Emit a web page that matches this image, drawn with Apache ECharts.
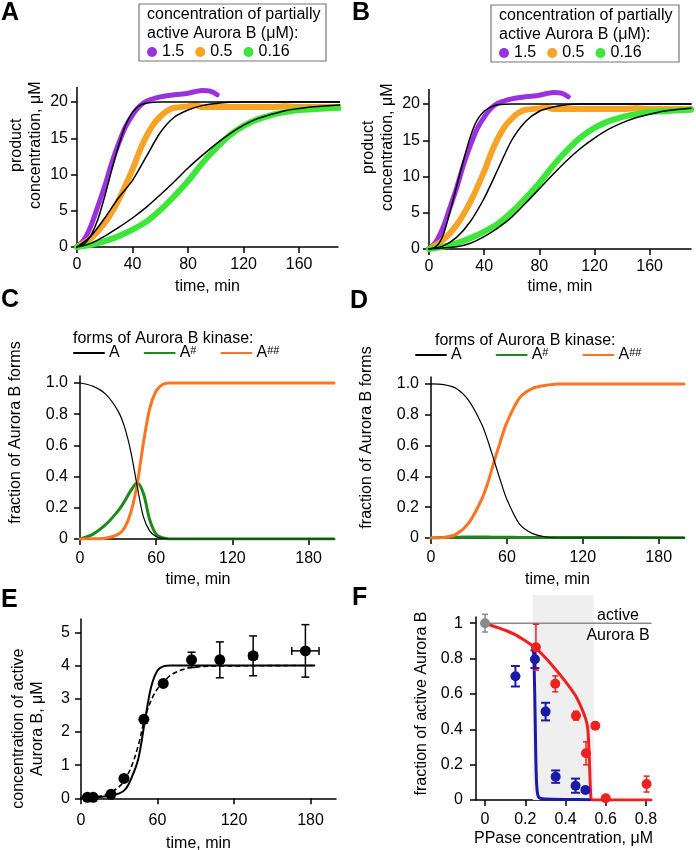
<!DOCTYPE html>
<html><head><meta charset="utf-8">
<script src="https://cdn.jsdelivr.net/npm/echarts@6/dist/echarts.min.js"></script>
<style>html,body{margin:0;padding:0;background:#fff}#c{width:696px;height:850px}</style>
</head><body><div id="c"></div>
<script>
// ---------- Panels A/B: experimental traces (shared) ----------
const tPurple = [0,5,10,15,20,25,30,35,40,45,50,60,70,80,90,96,101];
const vPurple = [0,1.0,2.9,5.6,8.4,11.6,14.3,16.6,18.2,19.4,20.1,20.7,21.0,21.2,21.6,21.5,21.0];
const tOrange = [0,10,20,30,40,45,50,55,60,65,70,80,85,90,100,120,140,150,160,190];
const vOrange = [0,1.2,3.3,6.5,10.7,13.2,15.3,16.9,18.0,18.8,19.2,19.4,19.6,19.3,19.3,19.3,19.3,19.4,19.3,19.3];
const tGreen = [0,10,20,30,40,50,60,70,80,90,100,110,120,130,140,150,160,170,190];
const vGreen = [0,0.3,0.8,1.5,2.4,3.5,5.1,7.0,9.1,11.5,13.6,15.4,16.7,17.6,18.2,18.6,18.9,19.0,19.2];
// Panel A model fits
const tFitAP = [0,5,10,15,20,25,30,35,40,45,50,55,60,190];
const vFitAP = [0,0.4,1.6,3.8,7.0,10.6,14.0,16.8,18.6,19.5,19.85,19.97,20,20];
const tFitAO = [0,10,20,30,40,50,60,70,80,90,100,110,120,190];
const vFitAO = [0,1.5,4.0,6.8,9.2,12.5,15.8,17.9,18.9,19.5,19.8,19.95,20,20];
const tFitAG = [0,10,20,30,40,50,60,70,80,90,100,110,120,130,140,150,160,170,190];
const vFitAG = [0,0.5,1.5,2.7,4.0,5.5,7.2,9.0,10.9,12.6,14.2,15.6,16.8,17.7,18.3,18.8,19.1,19.35,19.6];
// Panel B model fits
const tFitBP = [0,5,10,15,20,25,30,35,40,45,50,60,190];
const vFitBP = [0,0.3,1.8,5.0,8.6,12.2,15.5,17.8,19.0,19.6,19.9,20,20];
const tFitBO = [0,10,20,30,40,50,60,70,80,90,100,110,190];
const vFitBO = [0,0.4,1.6,3.8,7.0,11.0,15.0,17.6,19.0,19.6,19.9,20,20];
const tFitBG = [0,20,30,40,50,60,70,80,90,100,110,120,130,140,150,160,170,190];
const vFitBG = [0,0.3,0.8,1.7,2.9,4.4,6.3,8.3,10.3,12.2,13.9,15.3,16.5,17.4,18.1,18.6,19.0,19.4];
// ---------- Panel C ----------
const tC = [0,10,20,30,35,40,45,50,55,60,65,70,80,200];
const cA = [1.0,0.98,0.93,0.82,0.72,0.56,0.34,0.14,0.05,0.015,0.004,0,0,0];
const cA1 = [0,0.03,0.09,0.18,0.24,0.31,0.36,0.29,0.12,0.03,0.008,0,0,0];
const cA2 = [0,0.001,0.005,0.03,0.07,0.17,0.35,0.62,0.84,0.95,0.99,1.0,1.0,1.0];
// ---------- Panel D ----------
const tD = [0,10,20,30,40,45,50,55,60,70,80,90,100,200];
const dA = [1.0,0.995,0.97,0.89,0.74,0.63,0.5,0.37,0.25,0.09,0.03,0.008,0,0];
const dA1 = [0,0.003,0.005,0.006,0.006,0.006,0.005,0.005,0.005,0.004,0.004,0.003,0.003,0.002];
const dA2 = [0,0.003,0.025,0.1,0.25,0.36,0.5,0.63,0.75,0.91,0.97,0.99,1.0,1.0];
// ---------- Panel E ----------
const eT = [5,9.5,23.5,33.7,49.3,64.5,86.7,108.9,135,176];
const eV = [0.03,0.03,0.12,0.6,2.38,3.46,4.17,4.17,4.29,4.44];
const eYErr = [0,0,0,0,0,0,0.23,0.54,0.6,0.79];
const eXErr = [0,0,0,0,0,0,2,2.5,3,10.7];
const eSolidT = [0,10,20,30,35,40,45,50,55,60,65,70,183];
const eSolidV = [0.02,0.03,0.06,0.15,0.28,0.65,1.2,2.3,3.35,3.85,3.98,4.0,4.0];
const eDashT = [0,10,20,30,35,40,45,50,55,60,65,70,80,90,100,183];
const eDashV = [0.02,0.04,0.12,0.35,0.6,1.0,1.6,2.4,2.95,3.3,3.5,3.7,3.88,3.95,3.98,4.0];
// ---------- Panel F ----------
const fGreyX = [0], fGreyY = [1.0], fGreyErr = [0.05];
const fRedX = [0.253,0.349,0.452,0.502,0.548,0.6,0.803];
const fRedY = [0.864,0.657,0.477,0.264,0.42,0.01,0.09];
const fRedErr = [0.13,0.045,0.025,0.065,0.02,0.01,0.045];
const fBlueX = [0.151,0.248,0.301,0.351,0.45,0.499];
const fBlueY = [0.70,0.796,0.50,0.132,0.081,0.057];
const fBlueErr = [0.058,0.05,0.05,0.035,0.04,0.01];
const fRedCurveX = [0,0.05,0.1,0.15,0.2,0.25,0.3,0.35,0.4,0.45,0.48,0.5,0.51,0.515,0.52,0.525,0.53,0.825];
const fRedCurveY = [1.0,0.98,0.96,0.935,0.9,0.86,0.805,0.74,0.67,0.59,0.52,0.46,0.41,0.33,0.18,0.03,0.0,0.0];
const fBlueCurveX = [0.24,0.243,0.247,0.25,0.253,0.257,0.262,0.27,0.3,0.4,0.52];
const fBlueCurveY = [0.86,0.8,0.6,0.4,0.2,0.08,0.03,0.012,0.005,0.003,0.002];
const fActiveLineX = [0,0.825], fActiveLineY = [1,1];
const fShade = [0.237,0.54];
// tick labels
const ticksAB = [0,40,80,120,160];
const ticksABy = [0,5,10,15,20];
const ticksT = [0,60,120,180];
const ticksFrac = [0,0.2,0.4,0.6,0.8,1.0];
const ticksEy = [0,1,2,3,4,5];
const ticksFx = [0,0.2,0.4,0.6,0.8];

const FONT = '"Liberation Sans", Arial, Helvetica, sans-serif';
const PURPLE = '#9B30DE', ORANGE = '#F7A325', GREEN = '#3EE63A';
const DGREEN = '#1E8A1E', DORANGE = '#FF7420';
const RED = '#EE2020', BLUE = '#1A1AA6', GREY = '#8a8a8a';
const zip = (a,b) => a.map((x,i)=>[x,b[i]]);
const fmtInt = v => String(v);
const fmtDec = v => v === 0 ? '0' : v.toFixed(1);
const fmtF = v => (v === 0 || v === 1) ? String(v) : v.toFixed(1);

function axis(kind, gi, min, max, ticks, fmt, name, nameGap, margin, namePad, nameLH) {
  return {
    type:'value', gridIndex: gi, min, max,
    name, nameLocation:'middle', nameGap,
    nameRotate: kind === 'y' ? 90 : 0,
    nameTextStyle:{fontSize:16, color:'#000', fontFamily:FONT, padding: namePad || 0, lineHeight: nameLH || 19},
    axisLine:{show:true, onZero:false, lineStyle:{color:'#000', width:1.5}},
    axisTick:{show:true, inside:false, length:6, customValues:ticks, lineStyle:{color:'#000', width:1.5}},
    axisLabel:{show:true, customValues:ticks, margin, fontSize:16, color:'#000', fontFamily:FONT, formatter: fmt},
    splitLine:{show:false}
  };
}

const grids = [
  {left:77, top:87.5, width:261, height:159.5},
  {left:429, top:89.5, width:262, height:159.5},
  {left:80, top:376, width:254, height:163},
  {left:431, top:377, width:253, height:161},
  {left:81, top:619, width:255, height:179.3},
  {left:476, top:617, width:175, height:183},
  {left:476, top:595, width:175, height:205}
].map(g => Object.assign({outerBoundsMode:'none', containLabel:false, show:false}, g));

const xAxes = [
  axis('x',0,0,188,ticksAB,fmtInt,'time, min',30,10),
  axis('x',1,0,190,ticksAB,fmtInt,'time, min',28,10),
  axis('x',2,0,200,ticksT,fmtInt,'time, min',31,12,[0,18,0,0]),
  axis('x',3,0,200,ticksT,fmtInt,'time, min',32,12),
  axis('x',4,0,200,ticksT,fmtInt,'time, min',36,14,[0,20,0,0]),
  axis('x',5,-0.045,0.825,ticksFx,fmtDec,'PPase concentration, μM',29,12),
  {type:'value', gridIndex:6, min:-0.045, max:0.825, show:false}
];
const yAxes = [
  axis('y',0,0,22,ticksABy,fmtInt,'product\nconcentration, μM',32,9,[0,0,0,44]),
  axis('y',1,0,22,ticksABy,fmtInt,'product\nconcentration, μM',32,9,[0,0,0,44]),
  axis('y',2,0,1.045,ticksFrac,fmtDec,'fraction of Aurora B forms',55,12,[0,0,0,50]),
  axis('y',3,0,1.045,ticksFrac,fmtDec,'fraction of Aurora B forms',55,12,[0,0,0,40]),
  axis('y',4,0,5.4,ticksEy,fmtInt,'concentration of active\nAurora B, μM',34,11,[0,40,0,0]),
  axis('y',5,0,1.035,ticksFrac,fmtF,'fraction of active Aurora B',45,13,[0,0,0,10]),
  {type:'value', gridIndex:6, min:0, max:1.16, show:false}
];

function ln(name, gi, t, v, color, width, extra) {
  return Object.assign({
    type:'line', name, xAxisIndex:gi, yAxisIndex:gi, data: zip(t,v),
    symbol:'none', smooth:0.3, clip:true, z:3,
    lineStyle:{color, width, cap:'round', join:'round'}, itemStyle:{color},
    emphasis:{disabled:true}, silent:true
  }, extra || {});
}

function errBars(gi, xs, ys, eys, exs, color, lw, cap, z) {
  return {
    type:'custom', xAxisIndex:gi, yAxisIndex:gi, z: z || 4, silent:true,
    data: xs.map((x,i)=>[x, ys[i], eys[i], exs ? exs[i] : 0]),
    renderItem: function(params, api) {
      const x = api.value(0), y = api.value(1), ey = api.value(2), ex = api.value(3);
      const ch = [];
      const st = {stroke:color, lineWidth:lw};
      if (ey > 0) {
        const p1 = api.coord([x, y+ey]), p2 = api.coord([x, y-ey]);
        ch.push({type:'line', shape:{x1:p1[0],y1:p1[1],x2:p2[0],y2:p2[1]}, style:st});
        ch.push({type:'line', shape:{x1:p1[0]-cap,y1:p1[1],x2:p1[0]+cap,y2:p1[1]}, style:st});
        ch.push({type:'line', shape:{x1:p2[0]-cap,y1:p2[1],x2:p2[0]+cap,y2:p2[1]}, style:st});
      }
      if (ex > 0) {
        const p1 = api.coord([x-ex, y]), p2 = api.coord([x+ex, y]);
        ch.push({type:'line', shape:{x1:p1[0],y1:p1[1],x2:p2[0],y2:p2[1]}, style:st});
        ch.push({type:'line', shape:{x1:p1[0],y1:p1[1]-cap,x2:p1[0],y2:p1[1]+cap}, style:st});
        ch.push({type:'line', shape:{x1:p2[0],y1:p2[1]-cap,x2:p2[0],y2:p2[1]+cap}, style:st});
      }
      return {type:'group', children:ch};
    }
  };
}
function pts(gi, xs, ys, color, size, z) {
  return {type:'scatter', xAxisIndex:gi, yAxisIndex:gi, data: zip(xs,ys), symbol:'circle',
    symbolSize:size, itemStyle:{color, opacity:1}, z: z || 5, silent:true, emphasis:{disabled:true}};
}

const series = [
  // A
  ln('1.5',0,tPurple,vPurple,PURPLE,5),
  ln('0.5',0,tOrange,vOrange,ORANGE,6),
  ln('0.16',0,tGreen,vGreen,GREEN,6),
  ln('fitAP',0,tFitAP,vFitAP,'#000',1.5,{z:4}),
  ln('fitAO',0,tFitAO,vFitAO,'#000',1.5,{z:4}),
  ln('fitAG',0,tFitAG,vFitAG,'#000',1.5,{z:4}),
  // B
  ln('1.5',1,tPurple,vPurple,PURPLE,5),
  ln('0.5',1,tOrange,vOrange,ORANGE,6),
  ln('0.16',1,tGreen,vGreen,GREEN,6),
  ln('fitBP',1,tFitBP,vFitBP,'#000',1.5,{z:4}),
  ln('fitBO',1,tFitBO,vFitBO,'#000',1.5,{z:4}),
  ln('fitBG',1,tFitBG,vFitBG,'#000',1.5,{z:4}),
  // C
  ln('A',2,tC,cA,'#000',1.2,{z:5}),
  ln('A#',2,tC,cA1,DGREEN,3),
  ln('A##',2,tC,cA2,DORANGE,3),
  // D
  ln('A',3,tD,dA,'#000',1.2,{z:5}),
  ln('A#',3,tD,dA1,DGREEN,3),
  ln('A##',3,tD,dA2,DORANGE,3),
  // E
  ln('eSolid',4,eSolidT,eSolidV,'#000',2,{smooth:0.35}),
  ln('eDash',4,eDashT,eDashV,'#000',1.6,{smooth:0.35, lineStyle:{color:'#000', width:1.6, type:[5,3]}}),
  errBars(4,eT,eV,eYErr,eXErr,'#000',1.5,4),
  pts(4,eT,eV,'#000',11),
  // F shading
  {type:'line', xAxisIndex:6, yAxisIndex:6, data:[], z:1, silent:true,
   markArea:{silent:true, itemStyle:{color:'#efefef'}, data:[[{xAxis:fShade[0]},{xAxis:fShade[1]}]]}},
  ln('active',5,fActiveLineX,fActiveLineY,GREY,1.5,{smooth:false, z:2}),
  ln('red',5,fRedCurveX,fRedCurveY,RED,3,{smooth:0.15}),
  ln('blue',5,fBlueCurveX,fBlueCurveY,BLUE,3,{smooth:0.15}),
  errBars(5,fGreyX,fGreyY,fGreyErr,null,GREY,1.5,3),
  errBars(5,fRedX,fRedY,fRedErr,null,RED,1.5,3),
  errBars(5,fBlueX,fBlueY,fBlueErr,null,BLUE,2,4.5),
  pts(5,fGreyX,fGreyY,GREY,10),
  pts(5,fRedX,fRedY,RED,10),
  pts(5,fBlueX,fBlueY,BLUE,10)
];

const legTxt = {fontSize:16, color:'#000', fontFamily:FONT};
const supFmt = n => n === 'A' ? 'A' : 'A{s|' + n.slice(1) + '}';
const supRich = {s:{fontSize:11, color:'#000', fontFamily:FONT, verticalAlign:'top', lineHeight:11}};
const lineLegend = (left, top, gap) => ({
  data:['A','A#','A##'], left, top, itemWidth:30, itemHeight:14, itemGap:gap,
  itemStyle:{color:'transparent', borderWidth:0, opacity:0},
  formatter:supFmt, textStyle:Object.assign({rich:supRich}, legTxt), selectedMode:false, padding:0
});
const legends = [
  {data:['1.5','0.5','0.16'], left:147, top:44, icon:'circle', itemWidth:10, itemHeight:10, itemGap:11,
   textStyle:legTxt, selectedMode:false, padding:0},
  {data:['1.5','0.5','0.16'], left:499, top:45, icon:'circle', itemWidth:10, itemHeight:10, itemGap:11,
   textStyle:legTxt, selectedMode:false, padding:0},
  lineLegend(73, 345, 24),
  lineLegend(415, 347, 34)
];

const letter = (t,x,y) => ({type:'text', x, y, z:100, style:{text:t, font:'bold 25px ' + FONT, fill:'#000', textVerticalAlign:'top'}});
const txt = (t,x,y,extra) => ({type:'text', x, y, z:100, style:Object.assign({text:t, font:'16px ' + FONT, fill:'#000', lineHeight:19, textVerticalAlign:'top'}, extra||{})});
const graphic = [
  letter('A',1,1), letter('B',352,1), letter('C',1,288), letter('D',350,289), letter('E',1,588), letter('F',352,586),
  {type:'rect', shape:{x:139, y:4, width:187, height:57}, style:{fill:'#fff', stroke:'#777', lineWidth:1.2}, z:-1},
  txt('concentration of partially\nactive Aurora B (μM):',147,5),
  {type:'rect', shape:{x:491, y:5, width:188, height:57}, style:{fill:'#fff', stroke:'#777', lineWidth:1.2}, z:-1},
  txt('concentration of partially\nactive Aurora B (μM):',499,6),
  txt('forms of Aurora B kinase:',73,329),
  txt('forms of Aurora B kinase:',435,331),
  txt('active\nAurora B',618,606,{textAlign:'center', lineHeight:20})
];

const chart = echarts.init(document.getElementById('c'), null, {renderer:'canvas'});
chart.setOption({
  animation:false, backgroundColor:'#fff',
  grid:grids, xAxis:xAxes, yAxis:yAxes, series, legend:legends, graphic
});
</script></body></html>
